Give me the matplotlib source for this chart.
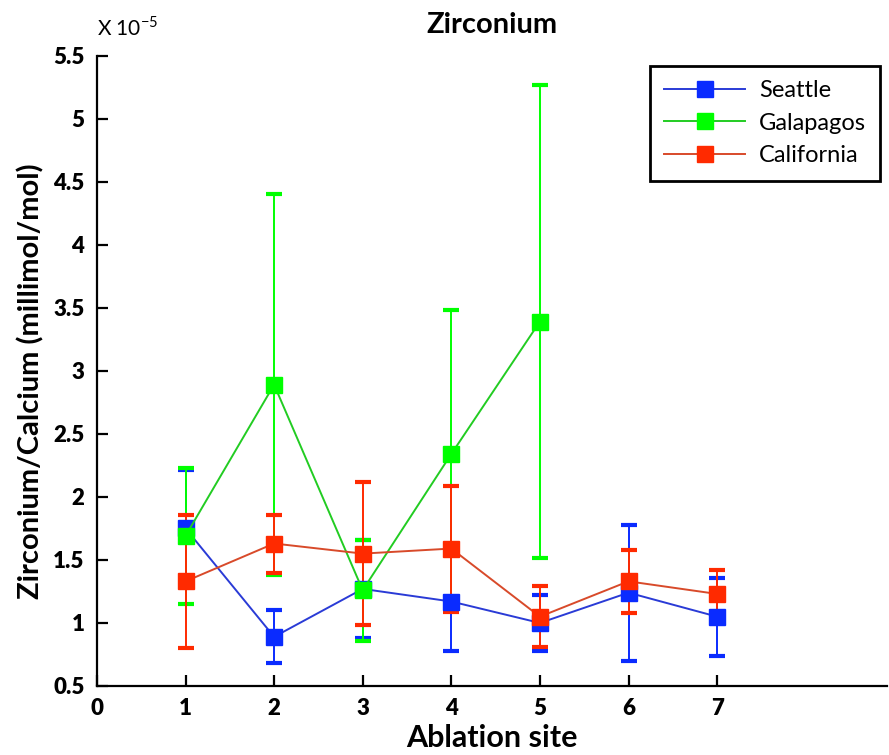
import matplotlib
matplotlib.use('Agg')
import matplotlib.pyplot as plt
from matplotlib.lines import Line2D
from matplotlib.ticker import FixedLocator, MultipleLocator, FuncFormatter

plt.rcParams['font.family'] = ['Lato', 'DejaVu Sans']
plt.rcParams['font.weight'] = 'bold'

# Zr/Ca ratios, in units of 1e-5 millimol/mol
sites = [1, 2, 3, 4, 5, 6, 7]
seattle = [1.75, 0.89, 1.27, 1.17, 1.00, 1.24, 1.05]
seattle_err = [0.46, 0.21, 0.39, 0.39, 0.22, 0.54, 0.31]
galapagos_sites = [1, 2, 3, 4, 5]
galapagos = [1.69, 2.89, 1.26, 2.34, 3.39]
galapagos_err = [0.54, 1.51, 0.40, 1.14, 1.875]
california = [1.33, 1.63, 1.55, 1.59, 1.05, 1.33, 1.23]
california_err = [0.53, 0.23, 0.57, 0.50, 0.24, 0.25, 0.19]
x_ticks = [0, 1, 2, 3, 4, 5, 6, 7]

fig = plt.figure(figsize=(8.89, 7.55), dpi=100)
ax = fig.add_axes([0.109, 0.0914, 0.889, 0.835])

series = [
	('Seattle', sites, seattle, seattle_err, '#2a3bd6', '#0a2bff'),
	('Galapagos', galapagos_sites, galapagos, galapagos_err, '#22cc22', '#00ff00'),
	('California', sites, california, california_err, '#d84a2a', '#ff2a00'),
]
handles = []
for name, x, y, err, lc, mc in series:
	ax.errorbar(x, y, yerr=err, color=lc, ecolor=mc, lw=1.4, elinewidth=1.4,
		capsize=6, capthick=3, marker='s', ms=11.5, mfc=mc, mec=mc)
	handles.append(Line2D([], [], color=lc, lw=1.4, marker='s', ms=11.5,
		mfc=mc, mec=mc, label=name))

ax.set_xlim(0, 8.92)
ax.set_ylim(0.5, 5.5)
ax.xaxis.set_major_locator(FixedLocator(x_ticks))
ax.yaxis.set_major_locator(MultipleLocator(0.5))
ax.xaxis.set_major_formatter(FuncFormatter(lambda v, p: '%d' % v))
ax.yaxis.set_major_formatter(FuncFormatter(lambda v, p: '%g' % v))

for s in ['top', 'right']:
	ax.spines[s].set_visible(False)
for s in ['left', 'bottom']:
	ax.spines[s].set_linewidth(1.6)
ax.tick_params(direction='in', length=8, width=1.6, labelsize=16, pad=9)
for lbl in ax.get_xticklabels() + ax.get_yticklabels():
	lbl.set_fontweight('heavy')

ax.set_title('Zirconium', fontsize=21, fontweight='bold', pad=16)
ax.set_xlabel('Ablation site', fontsize=22, fontweight='bold', labelpad=3)
ax.set_ylabel('Zirconium/Calcium (millimol/mol)', fontsize=21, fontweight='bold')
ax.yaxis.set_label_coords(-0.066, 0.483)
ax.text(0.0, 1.025, r'X 10$^{\mathregular{-5}}$', transform=ax.transAxes,
	fontsize=15, fontweight='normal', ha='left', va='bottom')

leg = ax.legend(handles=handles, loc='upper right', bbox_to_anchor=(0.991, 0.984),
	borderaxespad=0, prop={'size': 17, 'weight': 'normal'}, fancybox=False,
	edgecolor='black', framealpha=1, handlelength=3.4, borderpad=0.6,
	labelspacing=0.5, handletextpad=0.6)
leg.get_frame().set_linewidth(2)

fig.savefig('out.png', dpi=100)
